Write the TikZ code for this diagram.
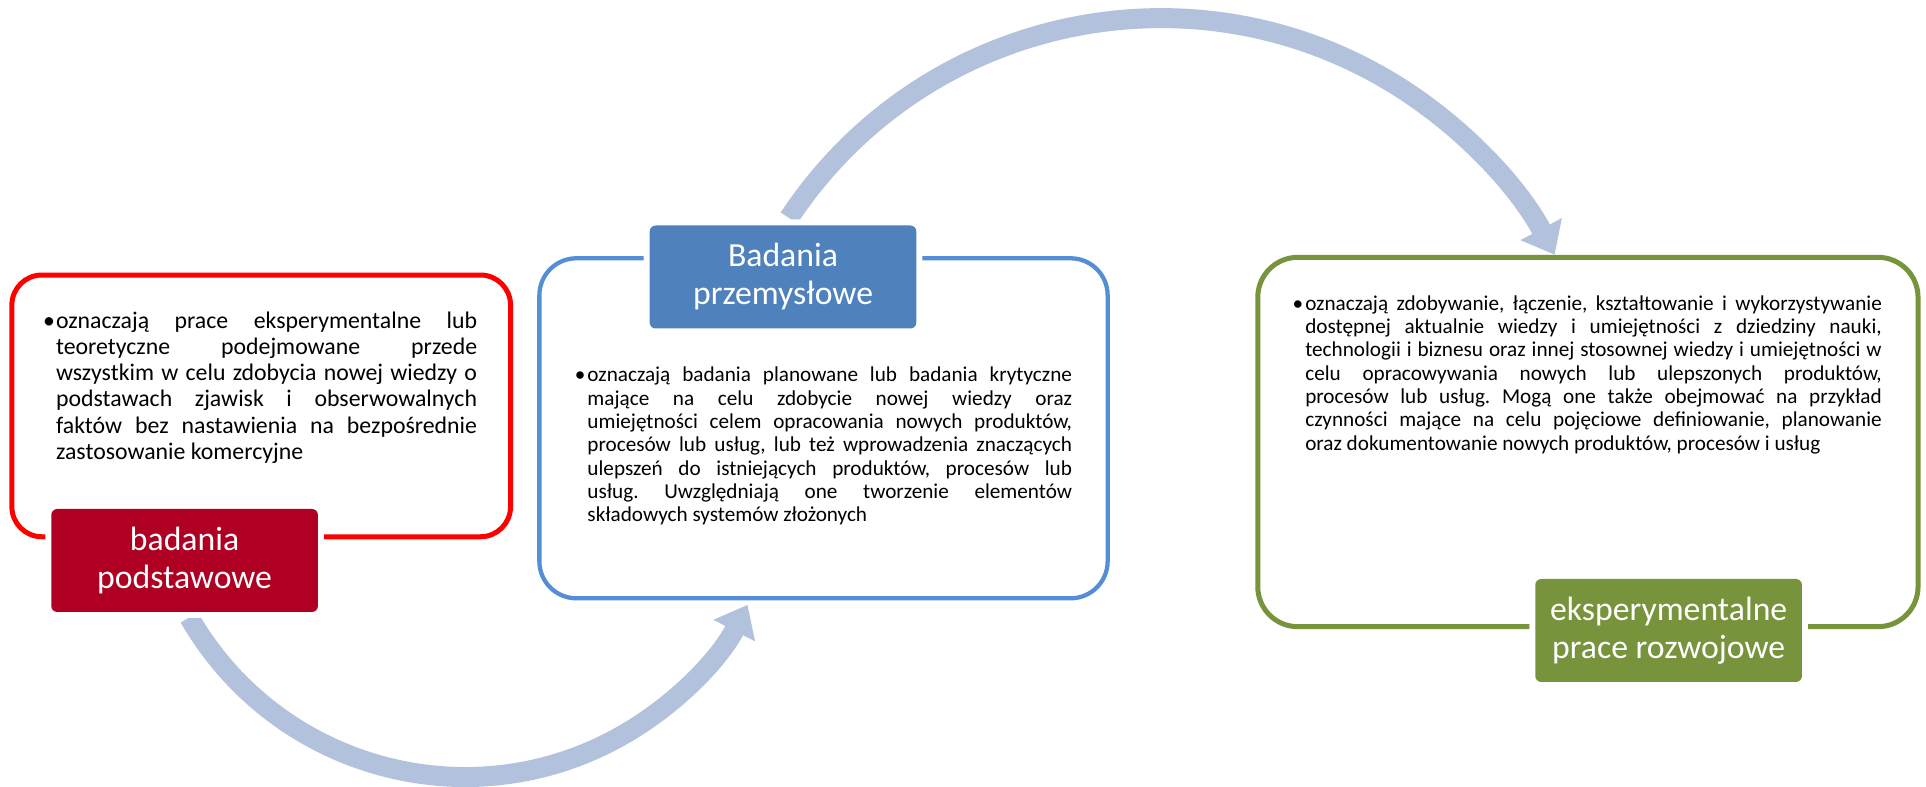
\documentclass[tikz,border=0pt]{standalone}
\usepackage{fontspec}
\setmainfont{Carlito}
\usetikzlibrary{arrows.meta}
\newlength\px \setlength\px{0.75pt}
\newlength\JW
\newcommand\JL[1]{\hbox to \JW{#1}}
\frenchspacing
\definecolor{redline}{RGB}{255,0,0}
\definecolor{redfill}{RGB}{175,0,36}
\definecolor{blueline}{RGB}{85,142,213}
\definecolor{bluefill}{RGB}{79,129,189}
\definecolor{greenline}{RGB}{119,147,60}
\definecolor{arrowblue}{RGB}{179,194,220}
\tikzset{
 panel/.style={draw, rounded corners=#1, inner sep=0pt},
 tagbox/.style={fill=#1, text=white, rounded corners=4.5pt, inner sep=0pt, align=center,
   minimum width=200pt, minimum height=77.25pt,
   font=\fontsize{25.3}{28.5}\selectfont,
   preaction={draw=white, line width=9pt}},
 bodytext/.style={inner sep=0pt, align=left, anchor=north west, text=black},
 cyc/.style={draw=arrowblue, line width=15pt, -{Triangle[width=33.75pt, length=21.75pt]}},
}
\begin{document}
\begin{tikzpicture}[x=0.75pt, y=0.75pt]
\useasboundingbox[fill=white] (0,0) rectangle (1926,787);
% arrows
\coordinate (a1s) at (189.3,169.5);
\draw[cyc] (a1s) arc[start angle=209.9, end angle=332.7, radius=238.5pt];
\coordinate (a2s) at (789,569);
\draw[cyc] (a2s) arc[start angle=146.5, end angle=28, radius=334.5pt];
% panels
\node[panel=22.5pt, draw=redline, line width=3.75pt, minimum width=374pt, minimum height=196.3pt] (redpanel) at (261.2,381.1) {};
\node[panel=27.75pt, draw=blueline, line width=3.2pt, minimum width=426.2pt, minimum height=255pt] (bluepanel) at (823.5,358.7) {};
\node[panel=30pt, draw=greenline, line width=3.75pt, minimum width=495.2pt, minimum height=277pt] (greenpanel) at (1587.9,345) {};
% body texts
\node[bodytext, font=\frenchspacing\fontsize{17.85}{19.6}\selectfont] (redtext) at (55.8,482.5) {%
\global\JW=421\px\relax
\JL{\vrule height 1em width 0pt\llap{•\hspace{1\px}}oznaczają prace eksperymentalne lub}\\
\JL{teoretyczne podejmowane przede}\\
\JL{wszystkim w celu zdobycia nowej wiedzy o}\\
\JL{podstawach zjawisk i obserwowalnych}\\
\JL{faktów bez nastawienia na bezpośrednie}\\
zastosowanie komercyjne};
\node[bodytext, font=\frenchspacing\fontsize{15.9}{17.5}\selectfont] (bluetext) at (587.2,426.5) {%
\global\JW=484.6\px\relax
\JL{\vrule height 1em width 0pt\llap{•\hspace{2\px}}oznaczają badania planowane lub badania krytyczne}\\
\JL{mające na celu zdobycie nowej wiedzy oraz}\\
\JL{umiejętności celem opracowania nowych produktów,}\\
\JL{procesów lub usług, lub też wprowadzenia znaczących}\\
\JL{ulepszeń do istniejących produktów, procesów lub}\\
\JL{usług. Uwzględniają one tworzenie elementów}\\
składowych systemów złożonych};
\node[bodytext, font=\frenchspacing\fontsize{15.9}{17.5}\selectfont] (greentext) at (1305,498.2) {%
\global\JW=576.5\px\relax
\JL{\vrule height 1em width 0pt\llap{•\hspace{2\px}}oznaczają zdobywanie, łączenie, kształtowanie i wykorzystywanie}\\
\JL{dostępnej aktualnie wiedzy i umiejętności z dziedziny nauki,}\\
\JL{technologii i biznesu oraz innej stosownej wiedzy i umiejętności w}\\
\JL{celu opracowywania nowych lub ulepszonych produktów,}\\
\JL{procesów lub usług. Mogą one także obejmować na przykład}\\
\JL{czynności mające na celu pojęciowe definiowanie, planowanie}\\
oraz dokumentowanie nowych produktów, procesów i usług};
% labels
\node[tagbox=redfill] (redtag) at (184.6,226.5) {badania\\podstawowe};
\node[tagbox=bluefill] (bluetag) at (783,510) {Badania\\przemysłowe};
\node[tagbox=greenline] (greentag) at (1668.6,156.5) {eksperymentalne\\prace rozwojowe};
\end{tikzpicture}
\end{document}
